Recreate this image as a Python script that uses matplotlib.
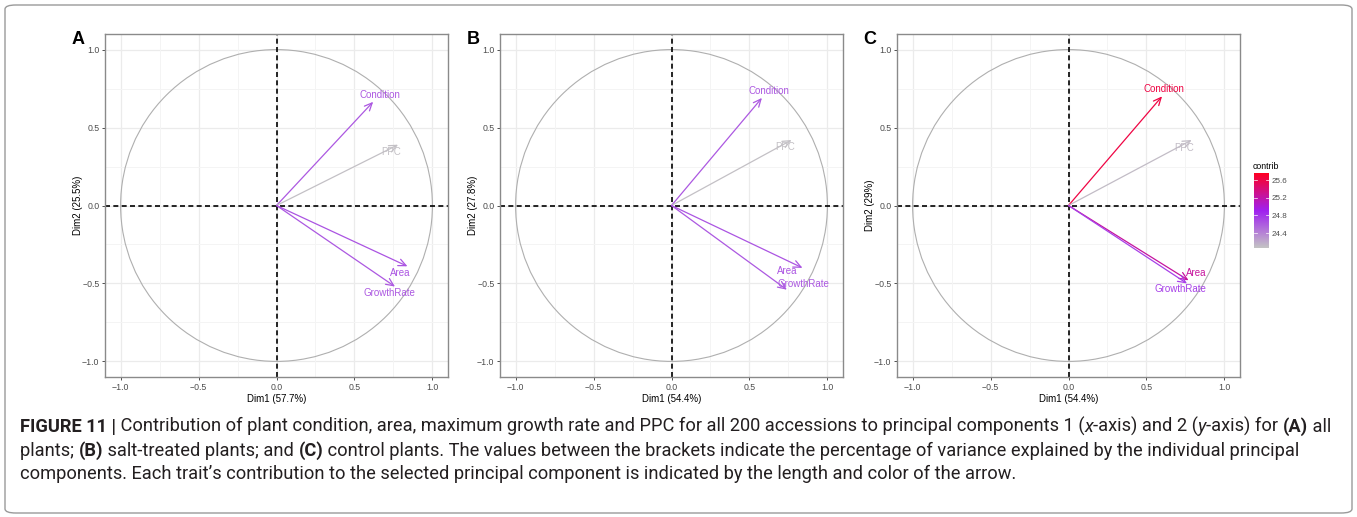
import numpy as np
import matplotlib
matplotlib.use("Agg")
import matplotlib.pyplot as plt
from matplotlib.colors import LinearSegmentedColormap, Normalize
from matplotlib.patches import FancyArrowPatch, Circle, FancyBboxPatch
from matplotlib import font_manager as fm

# ---------------- data ----------------
variables = ["Condition", "PPC", "Area", "GrowthRate"]
panel_letters = ["A", "B", "C"]
dim1_pct = ["57.7%", "54.4%", "54.4%"]
dim2_pct = ["25.5%", "27.8%", "29%"]

# coordinates (Dim1, Dim2) of each variable in each panel
dim1_A = [0.62, 0.78, 0.84, 0.76]
dim2_A = [0.665, 0.39, -0.39, -0.52]
dim1_B = [0.58, 0.77, 0.84, 0.74]
dim2_B = [0.69, 0.42, -0.40, -0.54]
dim1_C = [0.60, 0.79, 0.77, 0.76]
dim2_C = [0.70, 0.42, -0.48, -0.50]

# contribution (colour) of each variable
contrib_A = [24.62, 24.08, 24.64, 24.62]
contrib_B = [24.62, 24.08, 24.64, 24.62]
contrib_C = [25.62, 24.10, 25.25, 24.75]

contrib_limits = [24.06, 25.76]
contrib_ticks = [24.4, 24.8, 25.2, 25.6]
axis_ticks = [-1.0, -0.5, 0.0, 0.5, 1.0]
axis_tick_labels = ["\u22121.0", "\u22120.5", "0.0", "0.5", "1.0"]

caption_lines = [
    [("FIGURE 11 |", "bold", "normal"),
     (" Contribution of plant condition, area, maximum growth rate and PPC for all 200 accessions to principal components 1 (", "normal", "normal"),
     ("x", "normal", "italic"),
     ("-axis) and 2 (", "normal", "normal"),
     ("y", "normal", "italic"),
     ("-axis) for ", "normal", "normal"),
     ("(A)", "bold", "normal"),
     (" all", "normal", "normal")],
    [("plants; ", "normal", "normal"),
     ("(B)", "bold", "normal"),
     (" salt-treated plants; and ", "normal", "normal"),
     ("(C)", "bold", "normal"),
     (" control plants. The values between the brackets indicate the percentage of variance explained by the individual principal", "normal", "normal")],
    [("components. Each trait\u2019s contribution to the selected principal component is indicated by the length and color of the arrow.", "normal", "normal")],
]

# ---------------- style ----------------
W, H = 1357, 517
DPI = 100
plot_font = "Liberation Sans"


def have_font(name):
    try:
        fm.findfont(fm.FontProperties(family=name), fallback_to_default=False)
        return True
    except Exception:
        return False


caption_font = "Liberation Sans Narrow" if have_font("Liberation Sans Narrow") else (
    "Roboto" if have_font("Roboto") else "DejaVu Sans")

cmap = LinearSegmentedColormap.from_list("contrib", ["#C4C4C4", "#A020F0", "#FF0022"])
norm = Normalize(vmin=contrib_limits[0], vmax=contrib_limits[1])

# label offsets in pixels (dx right, dy down) relative to arrow tips
label_offsets = [
    [(7, -7), (-7, 7), (-7, 7), (-6, 6)],
    [(7, -7), (-6, 7), (-15, 3), (17, -6)],
    [(2, -7), (-8, 8), (8, -7), (-7, 6)],
]

panel_left_px = [105, 500, 897]
ax_top_px, ax_bottom_px = 34, 377
ax_w_px = 343

fig = plt.figure(figsize=(W / DPI, H / DPI), dpi=DPI)
fig.patch.set_facecolor("white")

# outer rounded frame
frame = FancyBboxPatch((5 / W, 4 / H), (W - 10) / W, (H - 9) / H,
                       boxstyle="round,pad=0,rounding_size=0.008",
                       transform=fig.transFigure, fill=False,
                       edgecolor="#9A9A9A", linewidth=1.0)
fig.patches.append(frame)

panels = [
    (dim1_A, dim2_A, contrib_A),
    (dim1_B, dim2_B, contrib_B),
    (dim1_C, dim2_C, contrib_C),
]

for i, (d1, d2, ctb) in enumerate(panels):
    left = panel_left_px[i] / W
    bottom = 1 - ax_bottom_px / H
    ax = fig.add_axes([left, bottom, ax_w_px / W, (ax_bottom_px - ax_top_px) / H])
    ax.set_xlim(-1.1, 1.1)
    ax.set_ylim(-1.1, 1.1)
    ax.set_facecolor("white")
    # grid
    for v in [-1.0, -0.5, 0.0, 0.5, 1.0]:
        ax.axvline(v, color="#EBEBEB", lw=0.9, zorder=0)
        ax.axhline(v, color="#EBEBEB", lw=0.9, zorder=0)
    for v in [-0.75, -0.25, 0.25, 0.75]:
        ax.axvline(v, color="#F4F4F4", lw=0.7, zorder=0)
        ax.axhline(v, color="#F4F4F4", lw=0.7, zorder=0)
    # circle
    ax.add_patch(Circle((0, 0), 1.0, fill=False, edgecolor="#AFAFAF", lw=0.8, zorder=1))
    # dashed axes
    ax.axhline(0, color="black", lw=1.2, ls=(0, (3, 2)), zorder=2)
    ax.axvline(0, color="black", lw=1.2, ls=(0, (3, 2)), zorder=2)
    # arrows
    for j, name in enumerate(variables):
        col = cmap(norm(ctb[j]))
        arr = FancyArrowPatch((0, 0), (d1[j], d2[j]),
                              arrowstyle="->,head_length=0.55,head_width=0.25",
                              mutation_scale=10, color=col, lw=0.9,
                              shrinkA=0, shrinkB=0, zorder=3)
        ax.add_patch(arr)
        dx, dy = label_offsets[i][j]
        ax.annotate(name, (d1[j], d2[j]), xytext=(dx, -dy), textcoords="offset pixels",
                    ha="center", va="center", color=col, fontsize=7,
                    family=plot_font, zorder=4)
    # ticks / spines
    ax.set_xticks(axis_ticks)
    ax.set_yticks(axis_ticks)
    ax.set_xticklabels(axis_tick_labels, family=plot_font, fontsize=6.3, color="#4D4D4D")
    ax.set_yticklabels(axis_tick_labels, family=plot_font, fontsize=6.3, color="#4D4D4D")
    ax.tick_params(length=2.5, width=0.6, color="#333333", pad=1.5)
    for s in ax.spines.values():
        s.set_color("#8A8A8A")
        s.set_linewidth(1.0)
    ax.set_xlabel(f"Dim1 ({dim1_pct[i]})", family=plot_font, fontsize=7, labelpad=2)
    ax.set_ylabel(f"Dim2 ({dim2_pct[i]})", family=plot_font, fontsize=7, labelpad=-1)
    # panel letter
    fig.text((panel_left_px[i] - 27) / W, 1 - 40 / H, panel_letters[i],
             fontsize=13, fontweight="bold", family=plot_font, ha="center", va="center")

# colorbar
cax = fig.add_axes([1254 / W, 1 - 248 / H, 15 / W, 75 / H])
grad = np.linspace(contrib_limits[0], contrib_limits[1], 300).reshape(-1, 1)
cax.imshow(grad, aspect="auto", cmap=cmap, norm=norm, origin="lower",
           extent=[0, 1, contrib_limits[0], contrib_limits[1]])
cax.set_xticks([])
cax.yaxis.tick_right()
cax.set_yticks(contrib_ticks)
cax.set_yticklabels([f"{t:.1f}" for t in contrib_ticks], family=plot_font,
                    fontsize=5.8, color="#4D4D4D")
cax.tick_params(axis="y", length=0, pad=2)
for t in contrib_ticks:
    cax.plot([0, 0.2], [t, t], color="white", lw=0.5)
    cax.plot([0.8, 1], [t, t], color="white", lw=0.5)
cax.set_xlim(0, 1)
cax.set_ylim(contrib_limits)
for s in cax.spines.values():
    s.set_visible(False)
fig.text(1253 / W, 1 - 166 / H, "contrib", family=plot_font, fontsize=6.3,
         ha="left", va="center")

# caption with mixed runs
renderer = fig.canvas.get_renderer()


def line_width(runs, size):
    total = 0
    for txt, wt, st in runs:
        t = fig.text(0, 0, txt, fontsize=size, fontweight=wt, fontstyle=st, family=caption_font)
        total += t.get_window_extent(renderer).width
        t.remove()
    return total


cap_size = 12.5
target = 990
w0 = line_width(caption_lines[2], cap_size)
cap_size = cap_size * target / w0

baselines = [432, 456, 479]
for runs, yb in zip(caption_lines, baselines):
    x = 20
    for txt, wt, st in runs:
        t = fig.text(x / W, 1 - yb / H, txt, fontsize=cap_size, fontweight=wt,
                     fontstyle=st, family=caption_font, ha="left", va="baseline",
                     color="#231F20")
        x += t.get_window_extent(renderer).width

fig.savefig("out.png", dpi=DPI, facecolor="white")
